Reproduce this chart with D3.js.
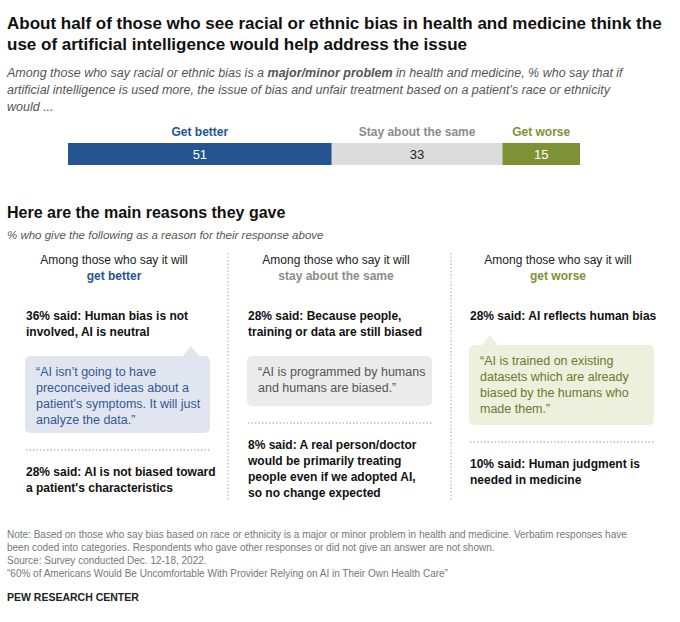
<!DOCTYPE html>
<html><head><meta charset="utf-8">
<script src="https://cdn.jsdelivr.net/npm/d3@7"></script>
<style>body{margin:0;background:#fff}text{font-family:"Liberation Sans",Arial,sans-serif}</style>
</head><body><svg width="680" height="622"></svg>
<script>
// data
const categories = ["Get better", "Stay about the same", "Get worse"];
const values = [51, 33, 15];
const colors = ["#255591", "#dcdcdc", "#7f9135"];
const labelColors = ["#255591", "#8c8c8c", "#7f9135"];
const valueColors = ["#fff", "#222", "#fff"];

const columns = [
  { head: "get better", color: "#255591", r1: ["36% said: Human bias is not", "involved, AI is neutral"],
    quote: ["\u201cAI isn\u2019t going to have", "preconceived ideas about a", "patient's symptoms. It will just", "analyze the data.\u201d"],
    qfill: "#e1e5f0", qcolor: "#2f5a94", r2: ["28% said: AI is not biased toward", "a patient's characteristics"], tail: "right" },
  { head: "stay about the same", color: "#8c8c8c", r1: ["28% said: Because people,", "training or data are still biased"],
    quote: ["\u201cAI is programmed by humans", "and humans are biased.\u201d"],
    qfill: "#ebebeb", qcolor: "#555", r2: ["8% said: A real person/doctor", "would be primarily treating", "people even if we adopted AI,", "so no change expected"], tail: null },
  { head: "get worse", color: "#7f9135", r1: ["28% said: AI reflects human bias"],
    quote: ["\u201cAI is trained on existing", "datasets which are already", "biased by the humans who", "made them.\u201d"],
    qfill: "#eef0de", qcolor: "#6b7a2a", r2: ["10% said: Human judgment is", "needed in medicine"], tail: "left" }
];

const svg = d3.select("svg");

function lines(g, arr, x, y, lh, attrs) {
  const t = g.append("text").attr("x", x).attr("y", y);
  Object.entries(attrs).forEach(([k, v]) => t.attr(k, v));
  arr.forEach((s, i) => t.append("tspan").attr("x", x).attr("dy", i ? lh : 0).text(s));
  return t;
}

// title
lines(svg, ["About half of those who see racial or ethnic bias in health and medicine think the",
  "use of artificial intelligence would help address the issue"], 7, 29, 21,
  { "font-size": 17, "font-weight": "bold", fill: "#111" });

const sub = svg.append("text").attr("font-size", 12.5).attr("font-style", "italic").attr("fill", "#555");
sub.append("tspan").attr("x", 7).attr("y", 77).text("Among those who say racial or ethnic bias is a ");
sub.append("tspan").attr("font-weight", "bold").text("major/minor problem");
sub.append("tspan").text(" in health and medicine, % who say that if");
sub.append("tspan").attr("x", 7).attr("y", 94).text("artificial intelligence is used more, the issue of bias and unfair treatment based on a patient\u2019s race or ethnicity");
sub.append("tspan").attr("x", 7).attr("y", 111).text("would ...");

// stacked bar
const x = d3.scaleLinear().domain([0, d3.sum(values)]).range([68, 580]);
const starts = d3.cumsum([0, ...values]);
const bar = svg.append("g");
bar.selectAll("rect").data(values).join("rect")
  .attr("x", (d, i) => x(starts[i])).attr("y", 143)
  .attr("width", (d, i) => x(starts[i] + d) - x(starts[i])).attr("height", 22)
  .attr("fill", (d, i) => colors[i]);
bar.selectAll(".v").data(values).join("text")
  .attr("x", (d, i) => x(starts[i] + d / 2)).attr("y", 159)
  .attr("text-anchor", "middle").attr("font-size", 13).attr("fill", (d, i) => valueColors[i]).text(d => d);
bar.selectAll(".c").data(categories).join("text")
  .attr("x", (d, i) => x(starts[i] + values[i] / 2)).attr("y", 136)
  .attr("text-anchor", "middle").attr("font-size", 12).attr("font-weight", "bold")
  .attr("fill", (d, i) => labelColors[i]).text(d => d);

// section header
svg.append("text").attr("x", 7).attr("y", 218).attr("font-size", 16).attr("font-weight", "bold").attr("fill", "#111")
  .text("Here are the main reasons they gave");
svg.append("text").attr("x", 7).attr("y", 239).attr("font-size", 11.5).attr("font-style", "italic").attr("fill", "#555")
  .text("% who give the following as a reason for their response above");

// columns
[228, 451].forEach(dx => svg.append("line").attr("x1", dx).attr("x2", dx).attr("y1", 253).attr("y2", 500)
  .attr("stroke", "#aaa").attr("stroke-dasharray", "1.5,2"));

const qTop = [356, 356, 345];
const qH = [77, 50, 80];
columns.forEach((c, i) => {
  const left = 26 + i * 222, cx = left + 88;
  const g = svg.append("g");
  g.append("text").attr("x", cx).attr("y", 264).attr("text-anchor", "middle").attr("font-size", 12).attr("fill", "#222")
    .text("Among those who say it will");
  g.append("text").attr("x", cx).attr("y", 280).attr("text-anchor", "middle").attr("font-size", 12).attr("font-weight", "bold")
    .attr("fill", c.color).text(c.head);
  lines(g, c.r1, left, 320, 16, { "font-size": 12, "font-weight": "bold", fill: "#111" });
  const top = qTop[i], h = qH[i];
  g.append("rect").attr("x", left - 1).attr("y", top).attr("width", 185).attr("height", h).attr("rx", 5).attr("fill", c.qfill);
  if (c.tail) {
    const tx = c.tail === "right" ? left + 165 : left + 20;
    g.append("path").attr("d", `M${tx - 8},${top} L${tx},${top - 10} L${tx + 8},${top} Z`).attr("fill", c.qfill);
  }
  lines(g, c.quote, left + 10, top + 20, 16, { "font-size": 12.5, fill: c.qcolor });
  const sepY = top + h + 17;
  g.append("line").attr("x1", left).attr("x2", left + 184).attr("y1", sepY).attr("y2", sepY)
    .attr("stroke", "#999").attr("stroke-dasharray", "1.5,2");
  lines(g, c.r2, left, sepY + 26, 16, { "font-size": 12, "font-weight": "bold", fill: "#111" });
});

// notes
lines(svg, ["Note: Based on those who say bias based on race or ethnicity is a major or minor problem in health and medicine. Verbatim responses have",
  "been coded into categories. Respondents who gave other responses or did not give an answer are not shown.",
  "Source: Survey conducted Dec. 12-18, 2022.",
  "\u201c60% of Americans Would Be Uncomfortable With Provider Relying on AI in Their Own Health Care\u201d"], 7, 538, 13,
  { "font-size": 10, fill: "#777" });
svg.append("text").attr("x", 7).attr("y", 601).attr("font-size", 10.5).attr("font-weight", "bold").attr("fill", "#222")
  .text("PEW RESEARCH CENTER");
</script></body></html>
